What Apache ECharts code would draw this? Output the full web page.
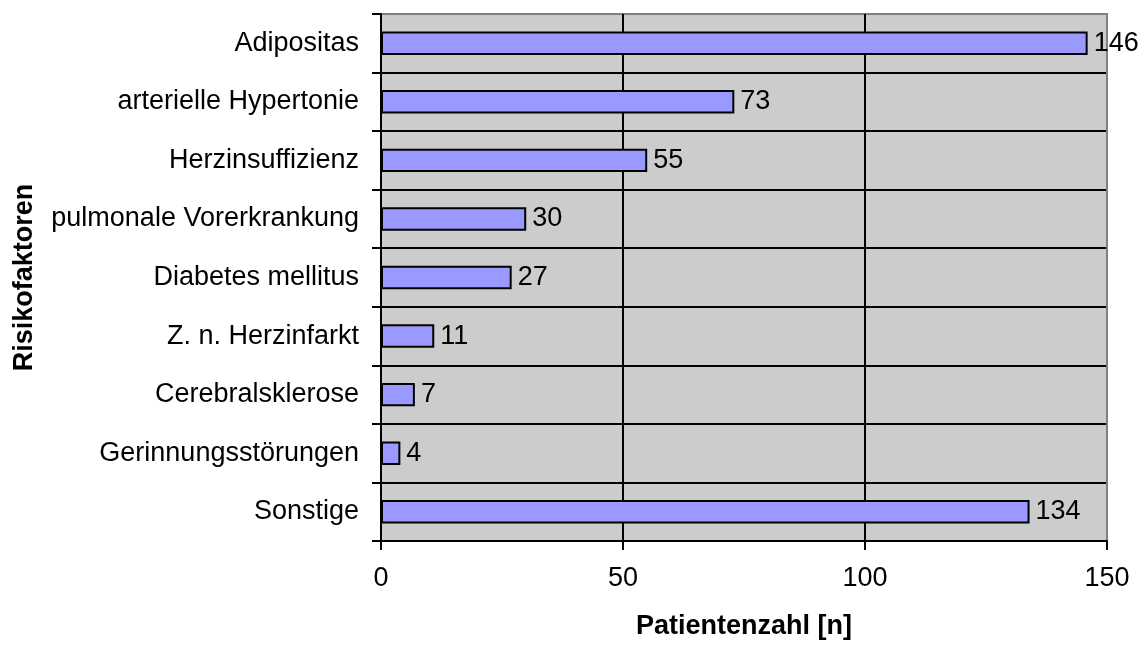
<!DOCTYPE html>
<html>
<head>
<meta charset="utf-8">
<script src="https://cdn.jsdelivr.net/npm/echarts@6/dist/echarts.min.js"></script>
<style>html,body{margin:0;padding:0;background:#fff;}#c{width:1148px;height:645px;}</style>
</head>
<body>
<div id="c"></div>
<script>
const categories = ['Adipositas','arterielle Hypertonie','Herzinsuffizienz','pulmonale Vorerkrankung','Diabetes mellitus','Z. n. Herzinfarkt','Cerebralsklerose','Gerinnungsstörungen','Sonstige'];
const values = [146, 73, 55, 30, 27, 11, 7, 4, 134];
const xTicks = [0, 50, 100, 150];

const chart = echarts.init(document.getElementById('c'));
const font = 'Liberation Sans, Arial, sans-serif';
chart.setOption({
  animation: false,
  backgroundColor: '#fff',
  grid: { left: 381, top: 14, right: 41, bottom: 99, show: true, backgroundColor: '#cccccc', borderColor: '#808080', borderWidth: 2 },
  xAxis: {
    type: 'value', min: xTicks[0], max: xTicks[xTicks.length-1], interval: 50,
    name: 'Patientenzahl [n]', nameLocation: 'middle', nameGap: 72,
    nameTextStyle: { fontFamily: font, fontSize: 27, fontWeight: 'bold', color: '#000' },
    axisLine: { show: true, lineStyle: { color: '#000', width: 2 } },
    axisTick: { show: true, length: 9, lineStyle: { color: '#000', width: 2 } },
    axisLabel: { fontFamily: font, fontSize: 27, color: '#000', margin: 24 },
    splitLine: { show: true, lineStyle: { color: ['#000','#000','#000','#808080'], width: 2 } }
  },
  yAxis: {
    type: 'category', data: categories, inverse: true,
    name: 'Risikofaktoren', nameLocation: 'middle', nameGap: 343, nameRotate: 90,
    nameTextStyle: { fontFamily: font, fontSize: 27, fontWeight: 'bold', color: '#000' },
    axisLine: { show: true, lineStyle: { color: '#000', width: 2 } },
    axisTick: { show: true, length: 9, lineStyle: { color: '#000', width: 2 } },
    axisLabel: { fontFamily: font, fontSize: 27, color: '#000', margin: 22 },
    splitLine: { show: true, lineStyle: { color: ['#808080','#000','#000','#000','#000','#000','#000','#000','#000','#000'], width: 2 } }
  },
  series: [{
    type: 'bar', data: values, barCategoryGap: '60%',
    itemStyle: { color: '#9999ff', borderColor: '#000', borderWidth: 2 },
    label: { show: true, position: 'right', distance: 6, fontFamily: font, fontSize: 27, color: '#000' }
  }]
});
</script>
</body>
</html>
